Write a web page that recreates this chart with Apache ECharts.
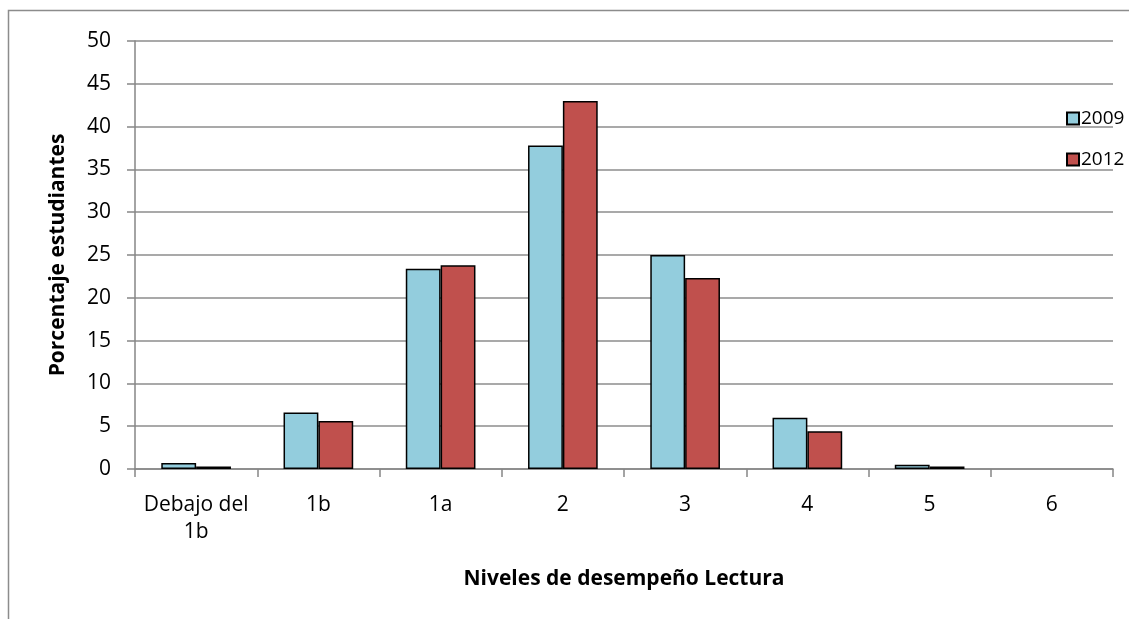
<!DOCTYPE html>
<html>
<head>
<meta charset="utf-8">
<script src="https://cdn.jsdelivr.net/npm/echarts@6/dist/echarts.min.js"></script>
<style>
  html, body { margin: 0; padding: 0; background: #fff; }
  #chart { width: 1129px; height: 619px; }
</style>
</head>
<body>
<div id="chart"></div>
<script>
// Reading performance levels
const categories = ['Debajo del\n1b', '1b', '1a', '2', '3', '4', '5', '6'];
const values2009 = [0.7, 6.6, 23.4, 37.8, 25.0, 6.0, 0.5, 0];
const values2012 = [0.3, 5.6, 23.8, 43.0, 22.3, 4.4, 0.3, 0];
const yTicks = { min: 0, max: 50, interval: 5 };

const FONT = '"Open Sans", Lato, sans-serif';

// zero-height bars get no outline
const barData = vals => vals.map(v => v === 0 ? { value: v, itemStyle: { borderWidth: 0 } } : v);

const chart = echarts.init(document.getElementById('chart'));
chart.setOption({
  animation: false,
  backgroundColor: '#ffffff',
  textStyle: { fontFamily: FONT },
  graphic: [{
    type: 'rect',
    shape: { x: 8.5, y: 10.5, width: 1140, height: 700 },
    style: { fill: 'none', stroke: '#8c8c8c', lineWidth: 1.5 },
    silent: true
  }],
  grid: { left: 135, top: 41, right: 16, bottom: 150 },
  legend: {
    orient: 'vertical',
    left: 1066,
    top: 109,
    padding: 0,
    icon: 'rect',
    itemWidth: 12,
    itemHeight: 12,
    itemGap: 22,
    textStyle: { fontFamily: FONT, fontSize: 19, color: '#000', padding: [0, 0, 0, -3] },
    data: ['2009', '2012']
  },
  xAxis: {
    type: 'category',
    data: categories,
    name: 'Niveles de desempeño Lectura',
    nameLocation: 'middle',
    nameGap: 100,
    nameTextStyle: { fontFamily: FONT, fontSize: 21, fontWeight: 'bold', color: '#000' },
    axisLine: { lineStyle: { color: '#868686', width: 1.5 } },
    axisTick: { show: true, length: 8, lineStyle: { color: '#868686', width: 1.5 } },
    axisLabel: { interval: 0, fontFamily: FONT, fontSize: 21, color: '#000', margin: 23, lineHeight: 27 }
  },
  yAxis: {
    type: 'value',
    min: yTicks.min,
    max: yTicks.max,
    interval: yTicks.interval,
    name: 'Porcentaje estudiantes',
    nameLocation: 'middle',
    nameGap: 66,
    nameTextStyle: { fontFamily: FONT, fontSize: 21, fontWeight: 'bold', color: '#000' },
    axisLine: { show: true, lineStyle: { color: '#868686', width: 1.5 } },
    axisTick: { show: true, length: 8, lineStyle: { color: '#868686', width: 1.5 } },
    axisLabel: { fontFamily: FONT, fontSize: 21, color: '#000', margin: 24 },
    splitLine: { lineStyle: { color: '#8c8c8c', width: 1.5 } }
  },
  series: [
    {
      name: '2009',
      type: 'bar',
      data: barData(values2009),
      barGap: '0%',
      barCategoryGap: '43%',
      itemStyle: { color: '#93CDDD', borderColor: '#000', borderWidth: 1.5 }
    },
    {
      name: '2012',
      type: 'bar',
      data: barData(values2012),
      barGap: '0%',
      barCategoryGap: '43%',
      itemStyle: { color: '#C0504D', borderColor: '#000', borderWidth: 1.5 }
    }
  ]
});
</script>
</body>
</html>
